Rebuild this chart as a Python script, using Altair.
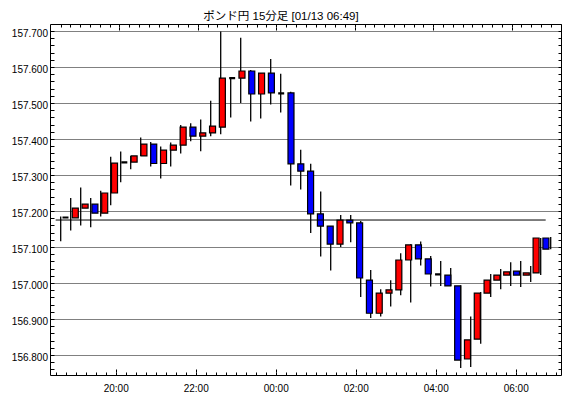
import altair as alt
import pandas as pd

title_text = "ポンド円 15分足 [01/13 06:49]"

times = ["18:30", "18:45", "19:00", "19:15", "19:30", "19:45", "20:00", "20:15", "20:30", "20:45",
         "21:00", "21:15", "21:30", "21:45", "22:00", "22:15", "22:30", "22:45", "23:00", "23:15",
         "23:30", "23:45", "00:00", "00:15", "00:30", "00:45", "01:00", "01:15", "01:30", "01:45",
         "02:00", "02:15", "02:30", "02:45", "03:00", "03:15", "03:30", "03:45", "04:00", "04:15",
         "04:30", "04:45", "05:00", "05:15", "05:30", "05:45", "06:00", "06:15", "06:30", "06:45"]

opens = [157.182, 157.181, 157.208, 157.219, 157.194, 157.250, 157.335, 157.336, 157.353, 157.386,
         157.332, 157.369, 157.383, 157.433, 157.408, 157.417, 157.433, 157.569, 157.569, 157.589,
         157.525, 157.583, 157.527, 157.528, 157.331, 157.311, 157.192, 157.158, 157.108, 157.175,
         157.167, 157.008, 156.916, 156.972, 156.981, 157.064, 157.106, 157.067, 157.024, 157.022,
         156.992, 156.789, 156.844, 156.972, 157.008, 157.022, 157.033, 157.022, 157.028, 157.125]
highs = [157.185, 157.236, 157.265, 157.236, 157.256, 157.351, 157.365, 157.353, 157.404, 157.392,
         157.379, 157.390, 157.439, 157.444, 157.454, 157.506, 157.699, 157.569, 157.681, 157.592,
         157.583, 157.622, 157.581, 157.531, 157.370, 157.331, 157.254, 157.158, 157.189, 157.189,
         157.172, 157.036, 156.983, 157.008, 157.083, 157.108, 157.115, 157.075, 157.061, 157.042,
         156.994, 156.907, 156.975, 157.025, 157.039, 157.058, 157.061, 157.047, 157.125, 157.128]
lows = [157.116, 157.146, 157.160, 157.155, 157.185, 157.216, 157.280, 157.316, 157.353, 157.324,
        157.290, 157.324, 157.360, 157.394, 157.366, 157.408, 157.413, 157.460, 157.500, 157.449,
        157.457, 157.496, 157.474, 157.271, 157.260, 157.139, 157.074, 157.035, 157.100, 157.113,
        156.961, 156.903, 156.907, 156.935, 156.966, 156.946, 157.049, 156.990, 156.992, 156.992,
        156.764, 156.767, 156.831, 156.961, 156.983, 156.992, 156.989, 157.003, 157.022, 157.094]
closes = [157.182, 157.208, 157.219, 157.194, 157.250, 157.333, 157.335, 157.353, 157.386, 157.332,
          157.369, 157.383, 157.433, 157.408, 157.417, 157.436, 157.569, 157.569, 157.589, 157.525,
          157.583, 157.528, 157.527, 157.331, 157.311, 157.192, 157.158, 157.108, 157.175, 157.167,
          157.014, 156.916, 156.972, 156.981, 157.064, 157.106, 157.067, 157.025, 157.024, 156.992,
          156.786, 156.842, 156.972, 157.008, 157.022, 157.031, 157.022, 157.028, 157.125, 157.094]

ref_price = 157.175
ref_from, ref_to = "18:30", "06:45"


def to_hours(s):
    hh, mm = map(int, s.split(":"))
    h = hh + mm / 60
    return h + 24 if hh < 12 else h


HALF = 0.125  # a 15-minute candle is drawn at its middle
df = pd.DataFrame({"time": times, "open": opens, "high": highs, "low": lows, "close": closes})
df["t"] = [to_hours(s) + HALF for s in times]
df["dir"] = ["up" if c > o else ("down" if c < o else "flat") for o, c in zip(opens, closes)]

ref_df = pd.DataFrame({"x0": [to_hours(ref_from)], "x1": [to_hours(ref_to)], "v": [ref_price]})

PLOT_W = 511
x_dom = [18.3575, 18.3575 + PLOT_W / 40]
y_dom = [156.7445, 157.7195]
x_vals = [18.5 + 0.25 * k for k in range(52)]
y_vals = [round(156.76 + 0.02 * k, 2) for k in range(48)]

xs = alt.Scale(domain=x_dom, nice=False, zero=False)
ys = alt.Scale(domain=y_dom, nice=False, zero=False)

major_x = "datum.value % 2 == 0"
major_y = "abs(datum.value * 10 - round(datum.value * 10)) < 0.01"
tick_dash = {"condition": {"test": major_x, "value": [6, 0]}, "value": [3, 3]}

ax_bottom = alt.Axis(orient="bottom", values=x_vals, offset=-6, tickSize=6, tickDash=tick_dash,
                     tickDashOffset=3, tickColor="black", tickWidth=1,
                     labelExpr=major_x + " ? (datum.value % 24 < 10 ? '0' : '') + (datum.value % 24) + ':00' : ''",
                     labelPadding=8, labelFont="Liberation Sans", labelFontSize=10, labelColor="black",
                     domain=False, grid=False, title=None)
ax_top = alt.Axis(orient="top", values=x_vals, offset=-6, tickSize=6, tickDash=tick_dash,
                  tickDashOffset=3, tickColor="black", tickWidth=1, labels=False,
                  domain=False, grid=False, title=None)
ax_left = alt.Axis(orient="left", values=y_vals, offset=-4, tickSize=4, tickColor="black", tickWidth=1,
                   labelExpr=major_y + " ? format(datum.value, '.3f') : ''",
                   labelPadding=2.5, labelFont="Liberation Sans", labelFontSize=10, labelColor="black",
                   labelOffset=2,
                   grid=True, gridColor="black", gridDash=[1, 1], gridWidth=1,
                   gridOpacity={"condition": {"test": major_y, "value": 1}, "value": 0},
                   domain=False, title=None)
ax_right = alt.Axis(orient="right", values=y_vals, offset=-3, tickSize=3, tickColor="black", tickWidth=1,
                    labels=False, domain=False, grid=False, title=None)

wicks = alt.Chart(df).mark_rule(color="black", strokeWidth=1.3).encode(
    x=alt.X("t:Q", scale=xs, axis=ax_bottom),
    y=alt.Y("low:Q", scale=ys, axis=ax_left),
    y2="high:Q",
)

bodies = alt.Chart(df).mark_bar(stroke="black", size=6).encode(
    x=alt.X("t:Q", scale=xs, axis=ax_top),
    y=alt.Y("open:Q", scale=ys, axis=ax_right),
    y2="close:Q",
    color=alt.Color("dir:N", scale=alt.Scale(domain=["up", "down", "flat"],
                                             range=["#ff0000", "#0000ff", "#000000"]), legend=None),
    strokeWidth=alt.condition("datum.open == datum.close", alt.value(2.2), alt.value(1.2)),
)

ref = alt.Chart(ref_df).mark_rule(color="black", strokeWidth=1).encode(
    x=alt.X("x0:Q", scale=xs, axis=None),
    x2="x1:Q",
    y=alt.Y("v:Q", scale=ys, axis=None),
)

chart = alt.layer(wicks, bodies, ref).resolve_scale(
    x="independent", y="independent"
).resolve_axis(
    x="independent", y="independent"
).properties(
    width=PLOT_W, height=351,
    autosize=alt.AutoSizeParams(type="none"),
    padding={"left": 42, "top": 16, "right": 1, "bottom": 17},
    background="white",
    title=alt.TitleParams(title_text, font="Liberation Sans, 'Noto Sans CJK JP'", fontSize=11.5,
                          fontWeight="normal", color="black", anchor="middle", frame="group",
                          dx=-24.5, offset=1),
).configure_view(stroke="black", strokeWidth=1)

chart.save("out.html", embed_options={"renderer": "svg", "actions": False})
